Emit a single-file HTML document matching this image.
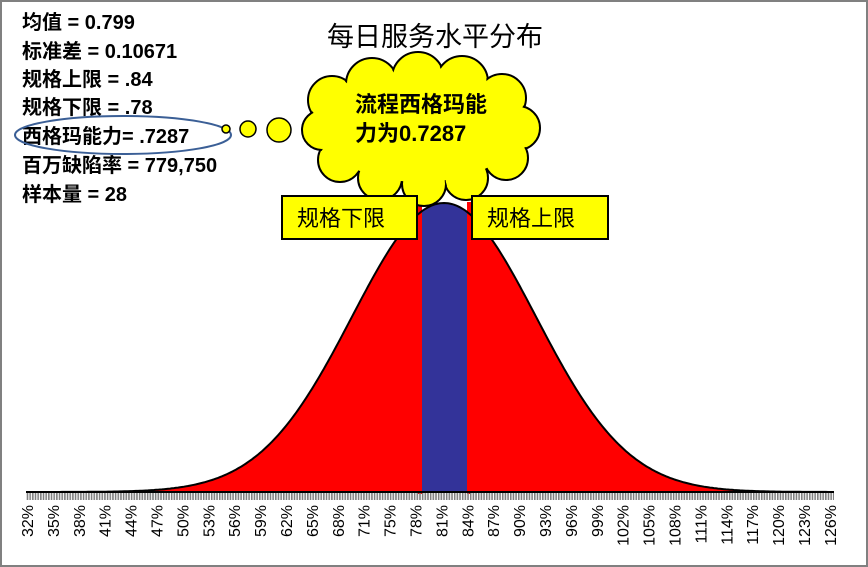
<!DOCTYPE html>
<html><head><meta charset="utf-8"><style>
html,body{margin:0;padding:0;background:#fff}
svg{display:block}
text{font-family:"Liberation Sans","Noto Sans CJK SC",sans-serif}
</style></head><body>
<svg id="s" width="868" height="567" viewBox="0 0 868 567" xmlns="http://www.w3.org/2000/svg">
<rect x="1" y="1" width="866" height="565" fill="#fff" stroke="#808080" stroke-width="2"/>
<defs><pattern id="tk" x="0" y="0" width="2.67" height="8" patternUnits="userSpaceOnUse"><rect width="1.6" height="8" fill="#808080"/></pattern></defs>
<path id="red" fill="#ff0000" d=""/>
<rect x="422" y="150" width="45" height="343" fill="#333399" id="blue"/>
<rect x="418" y="202" width="4" height="292" fill="#ff0000"/>
<rect x="467" y="202" width="4" height="292" fill="#ff0000"/>
<path id="curve" fill="none" stroke="#000" stroke-width="2" d=""/>
<rect x="26" y="491" width="808" height="2" fill="#000"/>
<rect x="26" y="493" width="808" height="7" fill="url(#tk)"/>
<g id="lbl" font-size="16" fill="#000"></g>
<text x="435" y="46" font-size="27" text-anchor="middle">每日服务水平分布</text>
<g font-size="20" font-weight="bold" fill="#000">
<text x="22" y="29">均值 = 0.799</text>
<text x="22" y="58">标准差 = 0.10671</text>
<text x="22" y="86">规格上限 = .84</text>
<text x="22" y="114">规格下限 = .78</text>
<text x="22" y="143">西格玛能力= .7287</text>
<text x="22" y="172">百万缺陷率 = 779,750</text>
<text x="22" y="201">样本量 = 28</text>
</g>
<ellipse cx="123" cy="135" rx="108" ry="19" fill="none" stroke="#3b5f96" stroke-width="2"/>
<circle cx="226" cy="129" r="4" fill="#ffff00" stroke="#000" stroke-width="1.5"/>
<circle cx="248" cy="129" r="8" fill="#ffff00" stroke="#000" stroke-width="1.5"/>
<circle cx="279" cy="130" r="12" fill="#ffff00" stroke="#000" stroke-width="1.5"/>
<g id="cloud"></g>
<text x="355" y="112" font-size="22" font-weight="bold">流程西格玛能</text>
<text x="355" y="141" font-size="22" font-weight="bold">力为0.7287</text>
<rect x="282" y="196" width="135" height="43" fill="#ffff00" stroke="#000" stroke-width="2"/>
<text x="297" y="226" font-size="22">规格下限</text>
<rect x="472" y="196" width="136" height="43" fill="#ffff00" stroke="#000" stroke-width="2"/>
<text x="487" y="226" font-size="22">规格上限</text>
</svg>
<script>
var mu=444,sg=92,base=492,amp=289;
var d="M26,"+base,c="";
for(var x=26;x<=834;x+=2){var y=base-amp*Math.exp(-Math.pow((x-mu)/sg,2)/2);d+=" L"+x+","+y.toFixed(1);c+=(x==26?"M":" L")+x+","+y.toFixed(1);}
d+=" L834,"+base+" Z";
document.getElementById("red").setAttribute("d",d);
document.getElementById("curve").setAttribute("d",c);
var svg=document.getElementById("s"),ns="http://www.w3.org/2000/svg";
var bl=document.getElementById("blue");
var cp=document.createElementNS(ns,"clipPath");cp.id="cp";
var pp=document.createElementNS(ns,"path");pp.setAttribute("d",d);cp.appendChild(pp);
svg.querySelector("defs").appendChild(cp);bl.setAttribute("clip-path","url(#cp)");
var g=document.getElementById("lbl");
var vals=[32,35,38,41,44,47,50,53,56,59,62,65,68,71,75,78,81,84,87,90,93,96,99,102,105,108,111,114,117,120,123,126];
for(var i=0;i<32;i++){var x=33+i*25.9;var t=document.createElementNS(ns,"text");
t.setAttribute("transform","translate("+x+",505) rotate(-90)");t.setAttribute("text-anchor","end");t.textContent=vals[i]+"%";g.appendChild(t);}
var circ=[[332,100,24],[372,84,26],[418,78,26],[462,82,26],[502,98,24],[518,128,22],[506,158,22],[466,178,22],[424,184,22],[380,178,22],[340,160,22],[322,130,20]];
var cg=document.getElementById("cloud");
circ.forEach(function(p){var e=document.createElementNS(ns,"circle");e.setAttribute("cx",p[0]);e.setAttribute("cy",p[1]);e.setAttribute("r",p[2]);e.setAttribute("fill","#ffff00");e.setAttribute("stroke","#000");e.setAttribute("stroke-width","2");cg.appendChild(e);});
circ.forEach(function(p){var e=document.createElementNS(ns,"circle");e.setAttribute("cx",p[0]);e.setAttribute("cy",p[1]);e.setAttribute("r",p[2]-1.5);e.setAttribute("fill","#ffff00");cg.appendChild(e);});
var el=document.createElementNS(ns,"ellipse");el.setAttribute("cx",420);el.setAttribute("cy",130);el.setAttribute("rx",98);el.setAttribute("ry",52);el.setAttribute("fill","#ffff00");cg.appendChild(el);
</script>
</body></html>
